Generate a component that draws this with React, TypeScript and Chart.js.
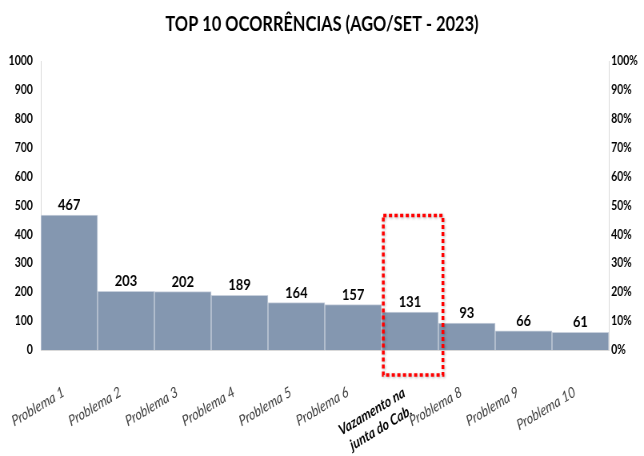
import React, { useEffect, useRef } from 'react';
import { Chart, registerables } from 'chart.js';

Chart.register(...registerables);

const TITLE = 'TOP 10 OCORRÊNCIAS (AGO/SET - 2023)';
const CATEGORIES: (string | string[])[] = [
  'Problema 1',
  'Problema 2',
  'Problema 3',
  'Problema 4',
  'Problema 5',
  'Problema 6',
  ['Vazamento na', 'junta do Cab.'],
  'Problema 8',
  'Problema 9',
  'Problema 10',
];
const VALUES = [467, 203, 202, 189, 164, 157, 131, 93, 66, 61];
const LEFT_MIN = 0;
const LEFT_MAX = 1000;
const LEFT_STEP = 100;
const RIGHT_MIN = 0;
const RIGHT_MAX = 100;
const RIGHT_STEP = 10;
const HIGHLIGHT_INDEX = 6;
const HIGHLIGHT_TOP_VALUE = 465;

// The reference is a horizontally condensed image: the canvas is laid out
// wider internally and displayed at 644px wide.
const DISPLAY_W = 644;
const DISPLAY_H = 456;
const SQUEEZE = 0.8;
const INTERNAL_W = Math.round(DISPLAY_W / SQUEEZE);

const FONT = "Lato, 'DejaVu Sans', sans-serif";
const BAR_COLOR = '#8497B0';

const valueLabels = {
  id: 'valueLabels',
  afterDatasetsDraw(chart: any) {
    const ctx = chart.ctx;
    const meta = chart.getDatasetMeta(0);
    ctx.save();
    ctx.font = `bold 16px ${FONT}`;
    ctx.fillStyle = '#000';
    ctx.textAlign = 'center';
    ctx.textBaseline = 'alphabetic';
    meta.data.forEach((bar: any, i: number) => {
      ctx.fillText(String(VALUES[i]), bar.x, bar.y - 5);
    });
    ctx.restore();
  },
};

const highlightBox = {
  id: 'highlightBox',
  afterDraw(chart: any) {
    const { ctx, chartArea } = chart;
    const x = chart.scales.x;
    const y = chart.scales.y;
    const cx = x.getPixelForValue(HIGHLIGHT_INDEX);
    const w = x.width / CATEGORIES.length;
    const left = cx - w * 0.47;
    const right = cx + w * 0.58;
    const top = y.getPixelForValue(HIGHLIGHT_TOP_VALUE);
    const bottom = chartArea.bottom + 25;
    ctx.save();
    ctx.strokeStyle = '#ff0000';
    ctx.lineWidth = 3.5;
    ctx.setLineDash([4, 3]);
    ctx.shadowColor = 'rgba(0,0,0,0.3)';
    ctx.shadowBlur = 3;
    ctx.shadowOffsetX = 1;
    ctx.shadowOffsetY = 1;
    ctx.strokeRect(left, top, right - left, bottom - top);
    ctx.restore();
  },
};

export default function App() {
  const ref = useRef<HTMLCanvasElement | null>(null);
  useEffect(() => {
    if (!ref.current) return;
    const chart = new Chart(ref.current, {
      type: 'bar',
      data: {
        labels: CATEGORIES as any,
        datasets: [
          {
            data: VALUES,
            backgroundColor: BAR_COLOR,
            borderColor: '#c8d0dc',
            borderWidth: 1,
            barPercentage: 1,
            categoryPercentage: 1,
            yAxisID: 'y',
          },
        ],
      },
      options: {
        responsive: false,
        animation: false,
        devicePixelRatio: 1,
        layout: { padding: 0 },
        plugins: {
          legend: { display: false },
          tooltip: { enabled: false },
          title: {
            display: true,
            text: TITLE,
            color: '#000',
            font: { family: FONT, size: 20.5, weight: 'bold', lineHeight: 1.2 },
            padding: { top: 12, bottom: 24.4 },
          },
        },
        scales: {
          x: {
            grid: { display: false, drawTicks: false },
            border: { display: true, color: '#d9d9d9' },
            ticks: {
              autoSkip: false,
              minRotation: 26,
              maxRotation: 26,
              padding: 33,
              labelOffset: -7,
              color: (c: any) => (c.index === HIGHLIGHT_INDEX ? '#000' : '#404040'),
              font: (c: any) =>
                c.index === HIGHLIGHT_INDEX
                  ? { family: FONT, size: 15, weight: 'bold', style: 'italic', lineHeight: 1.3 }
                  : { family: FONT, size: 15, style: 'italic' },
            },
            afterFit(scale: any) {
              scale.height = 106;
              scale.paddingLeft = 0;
              scale.paddingRight = 0;
            },
          },
          y: {
            position: 'left',
            min: LEFT_MIN,
            max: LEFT_MAX,
            grid: { display: false, drawTicks: false },
            border: { display: true, color: '#d9d9d9' },
            ticks: {
              stepSize: LEFT_STEP,
              padding: 10,
              color: '#000',
              font: { family: FONT, size: 13, weight: 'bold' },
              callback: (v: any) => String(v),
            },
            afterFit(scale: any) {
              scale.width = 51;
            },
          },
          y1: {
            position: 'right',
            min: RIGHT_MIN,
            max: RIGHT_MAX,
            grid: { display: false, drawTicks: false },
            border: { display: true, color: '#d9d9d9' },
            ticks: {
              stepSize: RIGHT_STEP,
              padding: 3,
              color: '#000',
              font: { family: FONT, size: 13, weight: 'bold' },
              callback: (v: any) => `${v}%`,
            },
            afterFit(scale: any) {
              scale.width = 44;
            },
          },
        },
      } as any,
      plugins: [valueLabels, highlightBox],
    });
    return () => chart.destroy();
  }, []);
  return (
    <div style={{ position: 'fixed', left: 0, top: 0, width: DISPLAY_W, height: DISPLAY_H, background: '#fff' }}>
      <canvas
        ref={ref}
        width={INTERNAL_W}
        height={DISPLAY_H}
        style={{ display: 'block', width: `${DISPLAY_W}px`, height: `${DISPLAY_H}px` }}
      />
    </div>
  );
}
